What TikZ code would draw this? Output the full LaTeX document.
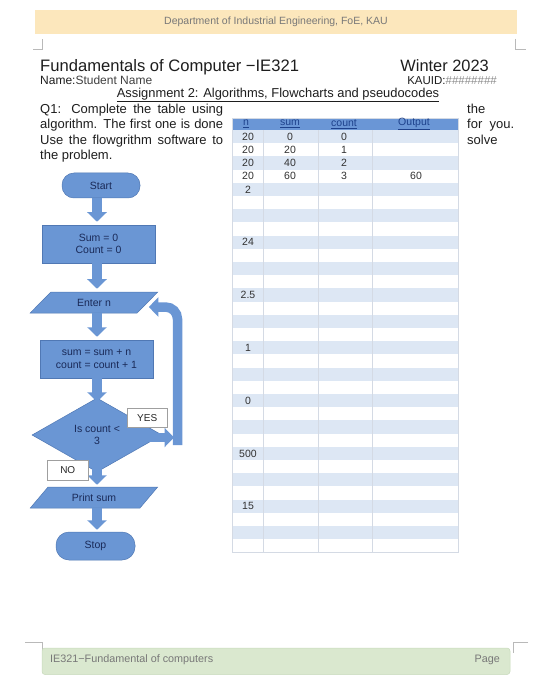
\documentclass[tikz,border=0pt]{standalone}
\usepackage{fontspec}
\setmainfont{Liberation Sans}
\usetikzlibrary{shapes.geometric,arrows.meta,calc}
\definecolor{fc}{RGB}{106,150,212}
\definecolor{bc}{RGB}{80,120,180}
\definecolor{tc}{RGB}{26,42,88}
\definecolor{hdr}{RGB}{252,231,188}
\definecolor{ftr}{RGB}{218,232,207}
\definecolor{ftrb}{RGB}{200,218,188}
\definecolor{stripe}{RGB}{221,231,244}
\definecolor{gridc}{RGB}{212,218,228}
\definecolor{thd}{RGB}{106,150,214}
\definecolor{thtext}{RGB}{30,66,140}
\definecolor{greytext}{RGB}{120,120,120}
\definecolor{marks}{RGB}{185,185,185}
\definecolor{maintext}{RGB}{30,30,30}
\definecolor{celltext}{RGB}{50,50,50}
\begin{document}
\begin{tikzpicture}[x=1pt,y=-1pt,
 fshape/.style={fill=fc,draw=bc,line width=0.5pt,text=tc,font=\fontsize{10.5}{12.5}\selectfont,inner sep=0pt},
 termbox/.style={fshape,rounded corners=12pt,minimum width=78pt,minimum height=25pt},
 proc/.style={fshape,minimum width=113pt,minimum height=38pt,align=center},
 io/.style={fshape,trapezium,trapezium left angle=42,trapezium right angle=138,trapezium stretches=true,minimum width=128pt,minimum height=21pt},
 dec/.style={fshape,diamond,minimum width=130pt,minimum height=74pt,align=center,font=\fontsize{10.5}{12.5}\selectfont},
 flow/.style={draw=fc,line width=9.5pt,-{Triangle[length=9.5pt,width=19pt]}},
 lbl/.style={fill=white,draw=gray!75,line width=0.5pt,font=\fontsize{10}{11}\selectfont,text=black!85,inner sep=0pt,anchor=north west},
 cellt/.style={font=\fontsize{10.5}{11}\selectfont,text=celltext,inner sep=0pt},
 colhead/.style={font=\fontsize{10.5}{11}\selectfont,text=thtext,inner sep=0pt},
 cornermark/.style={draw=marks,line width=0.7pt}
]
\useasboundingbox (0,0) rectangle (556,700);
\fill[white] (0,0) rectangle (556,700);

% header bar
\fill[hdr] (35,10) rectangle (517,34);
\node[font=\fontsize{10.5}{11}\selectfont,text=greytext] (dept) at (276,22) {Department of Industrial Engineering, FoE, KAU};
\draw[cornermark] (33,49) -- (42,49) -- (42,39);
\draw[cornermark] (515,39) -- (515,49) -- (526,49);

% titles
\node[anchor=base west,inner sep=0pt,font=\fontsize{16.6}{17}\selectfont,text=maintext] (title) at (40,72) {Fundamentals of Computer −IE321};
\node[anchor=base east,inner sep=0pt,font=\fontsize{16.4}{17}\selectfont,text=maintext] (winter) at (489,72) {Winter 2023};
\node[anchor=base west,inner sep=0pt,font=\fontsize{12}{13}\selectfont,text=maintext] (name) at (40,84.5) {Name:{\color{black!75}Student Name}};
\node[anchor=base east,inner sep=0pt,font=\fontsize{11.5}{13}\selectfont,text=maintext] (kauid) at (497,84.5) {KAUID:{\color{black!45}\#\#\#\#\#\#\#\#}};
\node[inner sep=0pt,font=\fontsize{12.9}{13}\selectfont,text=maintext] (assign) at (278,95) {\underline{Assignment 2: Algorithms, Flowcharts and pseudocodes}};
\node[anchor=north west,inner sep=0pt,text width=183pt,align=justify,font=\fontsize{13}{15.3}\selectfont,text=maintext] (q1) at (40,104) {Q1: Complete the table using\linebreak algorithm. The first one is done\linebreak Use the flowgrithm software to\linebreak the problem.};
\node[anchor=north west,inner sep=0pt,text width=47pt,align=justify,font=\fontsize{13}{15.3}\selectfont,text=maintext] (q1r) at (467,104) {the\linebreak for you.\linebreak solve};

% table
\fill[thd] (232,118) rectangle (458,130);
\foreach \j in {0,2,...,30} {\fill[stripe] (232,130+13.2*\j) rectangle (458,143.2+13.2*\j);}
\foreach \xx in {263.5,318,372} {\draw[gridc,line width=0.6pt] (\xx,130) -- (\xx,552.4);}
\draw[gridc,line width=0.6pt] (232,118) rectangle (458,552.4);
\node[colhead] (hn) at (246,124) {\underline{n}};
\node[colhead] (hs) at (290,124) {\underline{sum}};
\node[colhead] (hc) at (344,124) {\underline{count}};
\node[colhead] (ho) at (414,124) {\underline{Output}};
\foreach \v [count=\k from 0] in {20,20,20,20,2} {\node[cellt] (n\k) at (248,136.6+13.2*\k) {\v};}
\foreach \v [count=\k from 0] in {0,20,40,60} {\node[cellt] (s\k) at (290,136.6+13.2*\k) {\v};}
\foreach \v [count=\k from 0] in {0,1,2,3} {\node[cellt] (c\k) at (344,136.6+13.2*\k) {\v};}
\node[cellt] (o3) at (416,176.2) {60};
\foreach \v [count=\k from 0] in {24,2.5,1,0,500,15} {\node[cellt] (m\k) at (248,136.6+13.2*8+52.8*\k) {\v};}

% flowchart
\coordinate (ax) at (97,0);
\node[termbox] (start) at (101,185.5) {Start};
\node[proc] (init) at (98.5,244) {Sum = 0\\Count = 0};
\node[io] (enter) at (94,302.5) {Enter n};
\node[proc] (upd) at (96.5,359) {sum = sum + n\\count = count + 1};
\node[dec] (cond) at (97,435) {Is count <\\3};
\node[io] (print) at (94,497.5) {Print sum\hspace{22pt}};
\node[termbox,minimum width=79pt,minimum height=28pt,rounded corners=13pt] (stop) at (95.5,546) {Stop};

\draw[flow] (start.south -| ax) -- ($(init.north -| ax)+(0,-3)$);
\draw[flow] (init.south -| ax) -- ($(enter.north -| ax)+(0,-3)$);
\draw[flow] (enter.south -| ax) -- ($(upd.north -| ax)+(0,-3)$);
\draw[flow] (upd.south -| ax) -- ($(cond.north -| ax)+(0,4)$);
\draw[flow] ($(cond.south -| ax)+(0,-12)$) -- ($(print.north -| ax)+(0,-2)$);
\draw[flow] (print.south -| ax) -- ($(stop.north -| ax)+(0,-2)$);

\coordinate (yesend) at (174,437.5);
\coordinate (loopb) at (177.5,445);
\coordinate (looptop) at (177.5,307);
\draw[flow] ($(cond.east)+(-29,2.5)$) -- (yesend);
\draw[flow,rounded corners=12pt] (loopb) -- (looptop) -- ($(enter.east)+(1,4.5)$);

\node[lbl,minimum width=40pt,minimum height=19pt] (yes) at (127,408) {YES\hspace{6pt}};
\node[lbl,minimum width=41pt,minimum height=20pt] (no) at (47,459.5) {NO\hspace{11pt}};

% footer
\draw[cornermark] (25,642) -- (42,642) -- (42,653);
\draw[cornermark] (528,642) -- (513,642) -- (513,653);
\filldraw[fill=ftr,draw=ftrb,line width=0.5pt,rounded corners=3pt] (42,648) rectangle (510,674.5);
\node[anchor=west,inner sep=0pt,font=\fontsize{10.8}{11}\selectfont,text=greytext] (ftl) at (50,659.5) {IE321−Fundamental of computers};
\node[anchor=east,inner sep=0pt,font=\fontsize{10.8}{11}\selectfont,text=greytext] (ftr) at (500,659.5) {Page};
\end{tikzpicture}
\end{document}
